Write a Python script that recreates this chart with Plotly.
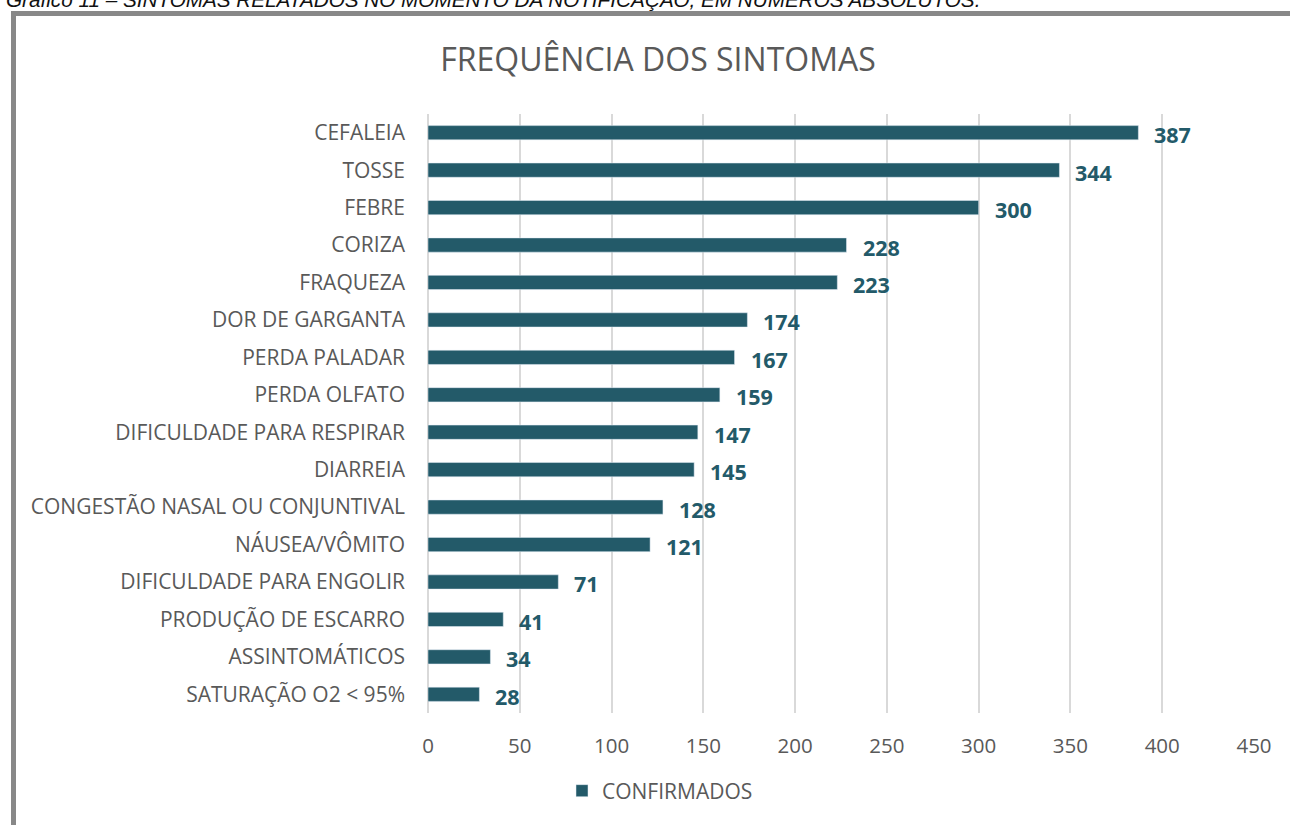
import plotly.graph_objects as go

categories = ["CEFALEIA", "TOSSE", "FEBRE", "CORIZA", "FRAQUEZA", "DOR DE GARGANTA",
              "PERDA PALADAR", "PERDA OLFATO", "DIFICULDADE PARA RESPIRAR", "DIARREIA",
              "CONGESTÃO NASAL OU CONJUNTIVAL", "NÁUSEA/VÔMITO", "DIFICULDADE PARA ENGOLIR",
              "PRODUÇÃO DE ESCARRO", "ASSINTOMÁTICOS", "SATURAÇÃO O2 < 95%"]
values = [387, 344, 300, 228, 223, 174, 167, 159, 147, 145, 128, 121, 71, 41, 34, 28]
x_ticks = [0, 50, 100, 150, 200, 250, 300, 350, 400, 450]

BAR = "#235a69"
GRAY = "#595959"
FONT = "Open Sans"

W, H = 1290, 825
L, R, T, B = 428, 36, 114, 112
pw, ph = W - L - R, H - T - B

def px_x(p):
    return (p - L) / pw

def px_y(p):
    return (H - B - p) / ph

fig = go.Figure()
fig.add_trace(go.Bar(
    y=categories, x=values, orientation="h", name="CONFIRMADOS",
    marker=dict(color=BAR), width=0.38,
))

for c, v in zip(categories, values):
    fig.add_annotation(x=v, y=c, xref="x", yref="y", text=f"<b>{v}</b>",
                       showarrow=False, xanchor="left", xshift=14, yshift=-2,
                       font=dict(family=FONT, size=21.5, color=BAR))

# outer frame
fig.add_shape(type="rect", xref="paper", yref="paper",
              x0=px_x(13.5), x1=px_x(1320), y0=px_y(850), y1=px_y(13.5),
              line=dict(color="#888888", width=5), fillcolor="rgba(0,0,0,0)", layer="above")

fig.add_annotation(xref="paper", yref="paper", x=px_x(4), y=px_y(13), xanchor="left", yanchor="bottom",
                   text="<i>Gráfico 11 – SINTOMAS RELATADOS NO MOMENTO DA NOTIFICAÇÃO, EM NÚMEROS ABSOLUTOS.</i>",
                   showarrow=False, font=dict(family="Liberation Sans", size=20.7, color="#111111"))

fig.update_layout(
    width=W, height=H,
    margin=dict(l=L, r=R, t=T, b=B),
    paper_bgcolor="white", plot_bgcolor="white",
    font=dict(family=FONT, color=GRAY),
    title=dict(text="FREQUÊNCIA DOS SINTOMAS", x=658 / W, xanchor="center",
               y=1 - 60 / H, yanchor="middle", font=dict(family=FONT, size=32, color=GRAY)),
    showlegend=True,
    legend=dict(orientation="h", x=px_x(660), xanchor="center", y=px_y(791), yanchor="middle",
                font=dict(family=FONT, size=21, color=GRAY), itemwidth=30),
)
fig.update_xaxes(range=[0, 450], tickvals=x_ticks, showgrid=True, gridcolor="#d9d9d9", gridwidth=2,
                 zeroline=True, zerolinecolor="#d9d9d9", zerolinewidth=2, showline=False,
                 tickfont=dict(family=FONT, size=20.5, color=GRAY), ticklabelstandoff=18)
fig.update_yaxes(autorange="reversed", showgrid=False, showline=False,
                 tickfont=dict(family=FONT, size=21, color=GRAY), ticklabelstandoff=22)

fig.write_html("out.html", post_script="document.body.style.margin='0';",
               config={"displayModeBar": False})
